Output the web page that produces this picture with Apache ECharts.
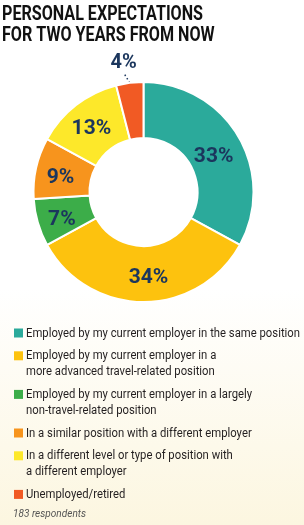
<!DOCTYPE html>
<html>
<head>
<meta charset="utf-8">
<script src="https://cdn.jsdelivr.net/npm/echarts@6/dist/echarts.min.js"></script>
<style>
  html, body { margin: 0; padding: 0; }
  body { width: 304px; height: 525px; background: linear-gradient(to bottom, #ffffff 0%, #ffffff 55%, #fcf6e0 100%); }
  #chart { width: 304px; height: 525px; }
</style>
</head>
<body>
<div id="chart"></div>
<script>
// data
var categories = [
    'Employed by my current employer in the same position',
    'Employed by my current employer in a\nmore advanced travel-related position',
    'Employed by my current employer in a largely\nnon-travel-related position',
    'In a similar position with a different employer',
    'In a different level or type of position with\na different employer',
    'Unemployed/retired'
];
var shares = [33, 34, 7, 9, 13, 4];
var colors = ['#2baa9b', '#fdc20e', '#3cad49', '#f7941d', '#fde82a', '#f15a24'];

var titleLines = ['PERSONAL EXPECTATIONS', 'FOR TWO YEARS FROM NOW'];
var footnote = '183 respondents';

var FONT = 'Roboto, "Liberation Sans", sans-serif';
var NAVY = '#1b365d';

// no narrow font installed, so squeeze regular text horizontally
var measureCtx = document.createElement('canvas').getContext('2d');
function textWidth(str, font) {
    measureCtx.font = font;
    return measureCtx.measureText(str).width;
}

var chart = echarts.init(document.getElementById('chart'), null, { renderer: 'canvas' });

var titleFont = 'bold 21px ' + FONT;
var titleScale = 201 / textWidth(titleLines[0], titleFont);
var legendFont = '12.5px ' + FONT;
var legendScale = 274 / textWidth(categories[0], legendFont);
var footFont = 'italic 11px ' + FONT;
var footScale = 73 / textWidth(footnote, footFont);

var graphics = [];
titleLines.forEach(function(t, i) {
    graphics.push({
        type: 'text',
        x: 2, y: 4 + i * 21,
        scaleX: titleScale,
        style: { text: t, font: titleFont, fill: '#111' }
    });
});

// legend drawn as graphic so the swatch sits on the first text line
var y = 325.5;
var lineH = 15.8;
categories.forEach(function(name, i) {
    var lines = name.split('\n').length;
    graphics.push({
        type: 'rect',
        shape: { x: 14, y: y + 3, width: 9, height: 9 },
        style: { fill: colors[i] }
    });
    graphics.push({
        type: 'text',
        x: 26, y: y,
        scaleX: legendScale,
        style: {
            text: name,
            font: legendFont,
            lineHeight: lineH,
            fill: '#231f20'
        }
    });
    y += lines * lineH + 7;
});

graphics.push({
    type: 'text',
    x: 13, y: 509,
    scaleX: footScale,
    style: { text: footnote, font: footFont, fill: '#555' }
});

var option = {
    backgroundColor: 'transparent',
    graphic: graphics,
    series: [{
        type: 'pie',
        center: [143.5, 192],
        radius: [54, 110],
        startAngle: 90,
        clockwise: true,
        avoidLabelOverlap: false,
        itemStyle: { borderColor: '#fff', borderWidth: 2 },
        label: {
            show: true,
            position: 'inside',
            formatter: '{c}%',
            fontFamily: FONT,
            fontWeight: 'bold',
            fontSize: 21,
            color: NAVY
        },
        labelLine: { show: false },
        labelLayout: function(p) {
            if (p.dataIndex === 5 && p.labelLinePoints) {
                var s = p.labelLinePoints[0];
                return { x: s[0] - 6, y: s[1] - 20, align: 'center', verticalAlign: 'middle' };
            }
            // reference labels sit a little lower than the mid-ring point
            if (p.dataIndex === 0) return { dx: -3, dy: 8 };
            if (p.dataIndex === 1) return { dx: 5, dy: 1 };
            return { dy: 4 };
        },
        data: shares.map(function(v, i) {
            var d = { name: categories[i], value: v, itemStyle: { color: colors[i] } };
            if (i === 5) {
                d.label = { position: 'outside', fontSize: 20 };
                d.labelLine = {
                    show: true, length: 9, length2: 0,
                    lineStyle: { type: [1.5, 2.5], color: NAVY, width: 1.5 }
                };
            }
            return d;
        })
    }]
};

chart.setOption(option);
</script>
</body>
</html>
